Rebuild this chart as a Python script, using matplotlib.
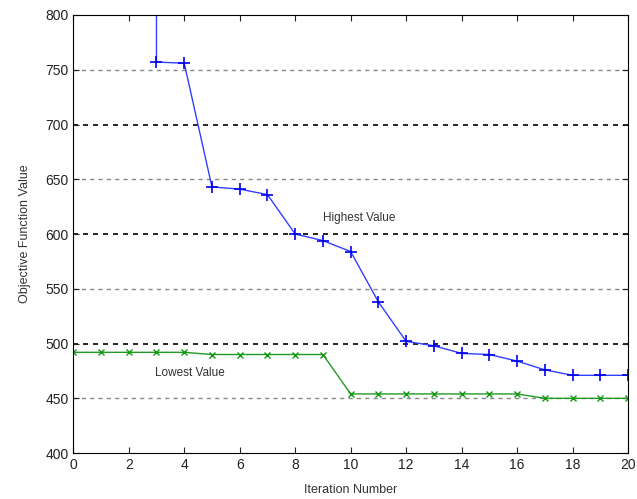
import numpy as np
import matplotlib.pyplot as plt

plt.rcParams['font.family'] = ['Liberation Sans', 'DejaVu Sans']

# highest value per iteration (first point is off the top of the chart)
high_x = [3, 3, 4, 5, 6, 7, 8, 9, 10, 11, 12, 13, 14, 15, 16, 17, 18, 19, 20]
high_y = [900, 757, 756, 643, 641, 636, 600, 594, 584, 538, 502, 498, 491, 490, 484, 476, 471, 471, 471]

# lowest value per iteration
low_x = list(range(0, 21))
low_y = [492, 492, 492, 492, 492, 490, 490, 490, 490, 490, 454, 454, 454, 454, 454, 454, 454, 450, 450, 450, 450]

fig = plt.figure(figsize=(6.37, 4.99), dpi=100)
ax = fig.add_axes([0.115, 0.092, 0.871, 0.878])

for yv in [450, 550, 650, 750]:
    ax.axhline(yv, color='#888888', ls=(0, (3, 3)), lw=1, zorder=0)
for yv in [500, 600, 700]:
    ax.axhline(yv, color='black', ls=(0, (3, 3)), lw=1.2, zorder=0)

ax.plot(high_x, high_y, color='#3040ff', lw=1, marker='+', ms=9, mew=1.2, mec='#0000ee')
ax.plot(low_x, low_y, color='#229922', lw=1, marker='x', ms=4, mew=1, mec='#119911')

ax.text(10.3, 615, 'Highest Value', fontsize=8.5, color='#333333', ha='center', va='center')
ax.text(4.2, 473, 'Lowest Value', fontsize=8.5, color='#333333', ha='center', va='center')

ax.set_xlim(0, 20)
ax.set_ylim(400, 800)
ax.set_xticks(np.arange(0, 21, 2))
ax.set_yticks(np.arange(400, 801, 50))
ax.tick_params(direction='in', top=True, right=True, labelsize=10, length=4, colors='#222222')
ax.set_xlabel('Iteration Number', fontsize=9, color='#333333')
ax.set_ylabel('Objective Function Value', fontsize=9, color='#333333')
ax.xaxis.set_label_coords(0.5, -0.07)
ax.yaxis.set_label_coords(-0.076, 0.5)

fig.savefig('out.png')
